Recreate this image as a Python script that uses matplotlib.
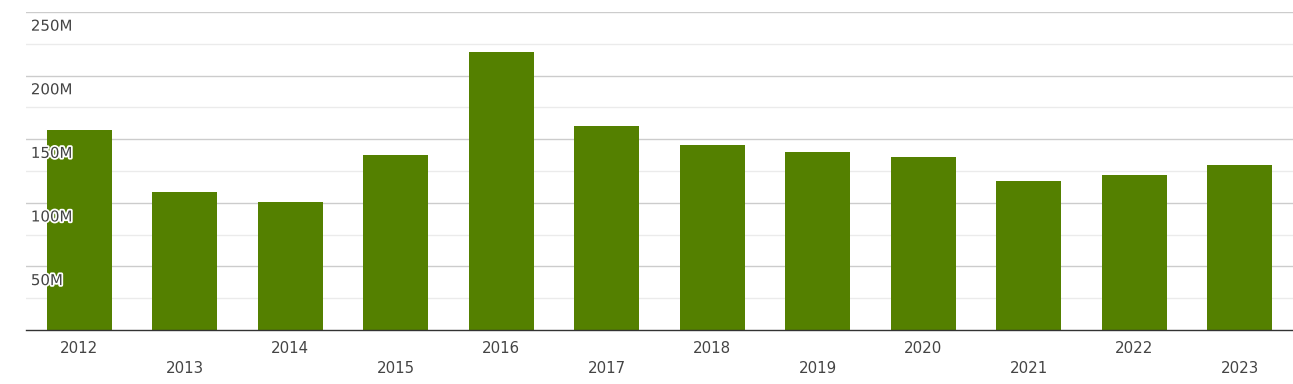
import matplotlib
matplotlib.use("Agg")
from matplotlib import pyplot as plt
import matplotlib.patheffects as pe

years = ["2012", "2013", "2014", "2015", "2016", "2017",
         "2018", "2019", "2020", "2021", "2022", "2023"]
values = [157.2, 108.5, 100.6, 137.6, 218.6, 160.4,
          145.4, 139.9, 136.0, 117.1, 121.9, 129.7]  # millions
y_ticks = [50, 100, 150, 200, 250]
y_labels = ["50M", "100M", "150M", "200M", "250M"]

fig = plt.figure(figsize=(12.93, 3.84), dpi=100)
ax = fig.add_axes([26/1293, 1 - 330/384, 1 - 26/1293, 318/384])

x = list(range(len(years)))
ax.bar(x, values, width=0.616, color="#548000", zorder=2)

ax.set_xlim(-0.507, len(years) - 1 + 0.507)
ax.set_ylim(0, 250)

# gridlines: major every 50M, minor every 25M
for v in range(25, 251, 25):
    if v % 50 == 0:
        ax.axhline(v, color="#cccccc", lw=1, zorder=1)
    else:
        ax.axhline(v, color="#ebebeb", lw=1, zorder=1)

for s in ["top", "right", "left"]:
    ax.spines[s].set_visible(False)
ax.spines["bottom"].set_color("#333333")
ax.spines["bottom"].set_linewidth(1)
ax.spines["bottom"].set_zorder(3)

ax.set_yticks([])
ax.set_xticks([])

halo = [pe.withStroke(linewidth=2.5, foreground="white")]
for v, lab in zip(y_ticks, y_labels):
    ax.annotate(lab, xy=(0, v), xycoords=("axes fraction", "data"),
                xytext=(3.5, -4.8), textcoords="offset points",
                ha="left", va="top", fontsize=10.8, color="#444444",
                path_effects=halo, zorder=4)

for i, yr in enumerate(years):
    off = -13 if i % 2 == 0 else -28
    ax.annotate(yr, xy=(i, 0), xycoords=("data", "axes fraction"),
                xytext=(0, off), textcoords="offset points",
                ha="center", va="center", fontsize=10.8, color="#444444")

fig.savefig("out.png", dpi=100)
